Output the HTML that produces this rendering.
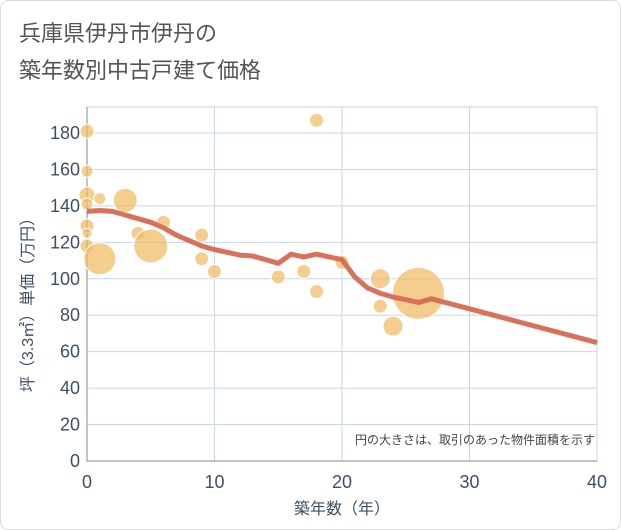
<!DOCTYPE html>
<html><head><meta charset="utf-8"><style>
body{margin:0;background:#fff;font-family:"Liberation Sans","Noto Sans CJK JP",sans-serif}
#wrap{position:relative;width:619px;height:528px;border:1px solid #ddd;border-radius:8px;overflow:hidden}
</style></head><body>
<div id="wrap">
<svg id="c" width="619" height="528">
<text x="18" y="40" font-size="22" fill="#555">兵庫県伊丹市伊丹の</text>
<text x="18" y="77" font-size="22" fill="#555">築年数別中古戸建て価格</text>
<g id="grid"></g><g id="bubbles"></g><g id="line"></g><g id="ticks"></g>
<text x="594" y="443" font-size="12" fill="#444" text-anchor="end">円の大きさは、取引のあった物件面積を示す</text>
<text x="341" y="513" font-size="16" fill="#3e5064" text-anchor="middle">築年数（年）</text>
<text transform="translate(32,300) rotate(-90)" font-size="16" fill="#3e5064" text-anchor="middle">坪（3.3㎡）単価（万円）</text>
</svg></div>
<script>
const xTicks=[0,10,20,30,40];
const yTicks=[0,20,40,60,80,100,120,140,160,180];
const bubbleYears=[0,0,0,0,0,0,0,1,1,3,4,5,6,9,9,10,15,17,18,18,20,23,23,24,26];
const bubbleValues=[181,159,146,141,129,125,118,144,111,143,125,118,131,124,111,104,101,104,187,93,109,100,85,74,92];
const bubbleSizes=[7,6,8,6,7,5,7,6,16,12,7,17,7,7,7,7,7,7,7,7,7,10,7,10,26];
const lineYears=[0,1,2,3,4,5,6,7,8,9,10,11,12,13,14,15,16,17,18,19,20,21,22,23,24,25,26,27,30,40];
const lineValues=[137,137.5,137,135,133,131,128,124,121,118,116,114.5,113,112.5,110.5,108.5,113.5,112,113.5,112,110.5,101,95,92,90,88.5,87,89,83.5,65];
const L=86,R=596,T=106,B=460;
const xs=v=>L+(R-L)*v/40, ys=v=>B-(B-132)*v/180;
const NS="http://www.w3.org/2000/svg";
function mk(t,a,p){const e=document.createElementNS(NS,t);for(const k in a)e.setAttribute(k,a[k]);p.appendChild(e);return e;}
const g=document.getElementById('grid');
const frame=mk('rect',{x:L,y:T,width:R-L,height:B-T,fill:'none',stroke:'#ccc'},g);


const tk=document.getElementById('ticks');
xTicks.forEach(v=>{const l=mk('line',{x1:xs(v),x2:xs(v),y1:T,y2:B,stroke:'#c8d6e5'},g);


const t=mk('text',{x:xs(v),y:B+27,'font-size':18,fill:'#3e5064','text-anchor':'middle'},tk);t.textContent=v;

});
yTicks.forEach(v=>{const l=mk('line',{x1:L,x2:R,y1:ys(v),y2:ys(v),stroke:'#c8d6e5'},g);


const t=mk('text',{x:L-7,y:ys(v)+6,'font-size':18,fill:'#3e5064','text-anchor':'end'},tk);t.textContent=v;

});
mk('line',{x1:L,x2:L,y1:T,y2:B,stroke:'#888'},g);
mk('line',{x1:L,x2:R,y1:B,y2:B,stroke:'#888'},g);
const bg=document.getElementById('bubbles');
bubbleYears.forEach((yr,i)=>{const c=mk('circle',{cx:xs(yr),cy:ys(bubbleValues[i]),r:bubbleSizes[i],fill:'rgba(240,185,95,0.7)',stroke:'#fff','stroke-width':1},bg);

});
const p=mk('polyline',{points:lineYears.map((y,i)=>xs(y)+','+ys(lineValues[i])).join(' '),fill:'none',stroke:'#d9705a','stroke-width':5,'stroke-linejoin':'round'},document.getElementById('line'));


</script></body></html>
